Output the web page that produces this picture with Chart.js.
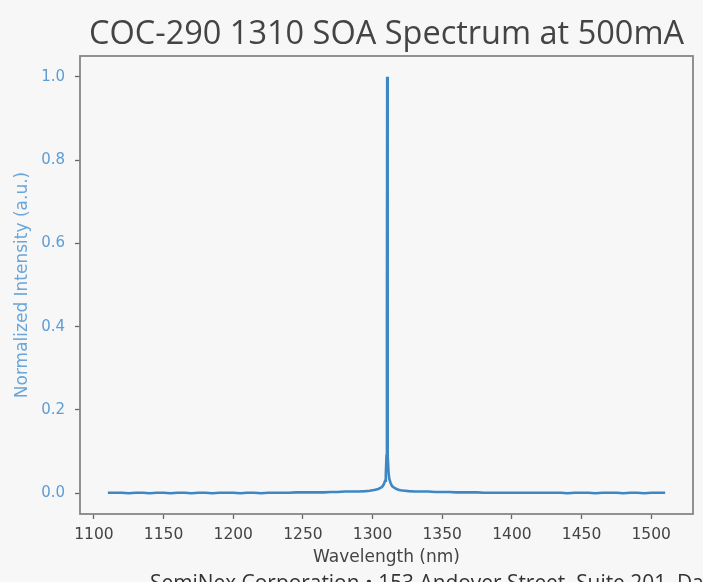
<!DOCTYPE html>
<html>
<head>
<meta charset="utf-8">
<script src="https://cdn.jsdelivr.net/npm/chart.js@4.4.1/dist/chart.umd.min.js"></script>
<style>
  html, body { margin: 0; padding: 0; background: #f7f7f7; overflow: hidden; }
  #wrap { position: relative; width: 703px; height: 582px; overflow: hidden; background: #f7f7f7; }
  #c { position: absolute; left: 0; top: 0; }
  #footer { position: absolute; left: 150px; top: 572px; font-family: "Open Sans", sans-serif; font-size: 20.9px; line-height: 21px; color: #333; white-space: nowrap; }
</style>
</head>
<body>
<div id="wrap">
  <canvas id="c" width="703" height="582"></canvas>
  <div id="footer">SemiNex Corporation • 153 Andover Street, Suite 201, Danvers, MA 01923</div>
</div>
<script>
// ---- data ----
const wavelengths = [
  1110,1115,1120,1125,1130,1135,1140,1145,1150,1155,
  1160,1165,1170,1175,1180,1185,1190,1195,1200,1205,
  1210,1215,1220,1225,1230,1235,1240,1245,1250,1255,
  1260,1265,1270,1275,1280,1285,1290,1295,1298,1300,
  1302,1304,1306,1307,1308,1309,1309.5,1310,1310.3,1310.5,
  1310.7,1311,1311.5,1312,1313,1314,1316,1318,1320,1323,
  1326,1330,1335,1340,1345,1350,1355,1360,1365,1370,
  1375,1380,1385,1390,1395,1400,1405,1410,1415,1420,
  1425,1430,1435,1440,1445,1450,1455,1460,1465,1470,
  1475,1480,1485,1490,1495,1500,1505,1510
];
const intensity = [
  0.001,0.001,0.001,0.000,0.001,0.001,0.000,0.001,0.001,0.000,
  0.001,0.001,0.000,0.001,0.001,0.000,0.001,0.001,0.001,0.000,
  0.001,0.001,0.000,0.001,0.001,0.001,0.001,0.002,0.002,0.002,
  0.002,0.002,0.003,0.003,0.004,0.004,0.004,0.005,0.006,0.007,
  0.008,0.010,0.013,0.016,0.021,0.030,0.045,0.090,0.400,1.000,
  0.400,0.090,0.048,0.034,0.024,0.017,0.012,0.009,0.007,0.006,
  0.005,0.004,0.004,0.004,0.003,0.003,0.003,0.002,0.002,0.002,
  0.002,0.001,0.001,0.001,0.001,0.001,0.001,0.001,0.001,0.001,
  0.001,0.001,0.001,0.000,0.001,0.001,0.001,0.000,0.001,0.001,
  0.001,0.000,0.001,0.001,0.000,0.001,0.001,0.001
];
const xTickValues = [1100,1150,1200,1250,1300,1350,1400,1450,1500];
const yTickValues = [0.0,0.2,0.4,0.6,0.8,1.0];
const titleText = "COC-290 1310 SOA Spectrum at 500mA";
const xLabel = "Wavelength (nm)";
const yLabel = "Normalized Intensity (a.u.)";

const points = wavelengths.map((w, i) => ({ x: w, y: intensity[i] }));

const framePlugin = {
  id: 'frame',
  afterDraw(chart) {
    const { ctx, chartArea: a } = chart;
    ctx.save();
    ctx.strokeStyle = '#858585';
    ctx.lineWidth = 1.8;
    ctx.strokeRect(a.left, a.top, a.right - a.left, a.bottom - a.top);
    ctx.restore();
  }
};

new Chart(document.getElementById('c'), {
  type: 'line',
  data: {
    datasets: [{
      data: points,
      borderColor: '#3d87c5',
      borderWidth: 2.6,
      pointRadius: 0,
      tension: 0,
      fill: false
    }]
  },
  options: {
    responsive: false,
    animation: false,
    devicePixelRatio: 1,
    layout: { padding: { left: 0, right: 10, top: 0, bottom: 0 } },
    plugins: {
      legend: { display: false },
      tooltip: { enabled: false },
      title: {
        display: true,
        text: titleText,
        fullSize: false,
        color: '#444444',
        font: { family: '"Open Sans", sans-serif', size: 32.5, weight: 'normal', lineHeight: 1.2 },
        padding: { top: 15, bottom: 2 }
      }
    },
    scales: {
      x: {
        type: 'linear',
        min: 1090,
        max: 1530,
        afterFit(scale) { scale.height = 68; },
        afterBuildTicks(scale) { scale.ticks = xTickValues.map(v => ({ value: v })); },
        border: { display: false },
        grid: { drawOnChartArea: false, drawTicks: true, tickLength: 5, tickColor: '#666666', tickWidth: 1.3 },
        ticks: {
          color: '#444444',
          padding: 7,
          maxRotation: 0,
          autoSkip: false,
          font: { family: '"DejaVu Sans", sans-serif', size: 15.5 },
          callback: v => String(v)
        },
        title: {
          display: true,
          text: xLabel,
          color: '#444444',
          font: { family: '"DejaVu Sans", sans-serif', size: 17, lineHeight: 1.2 },
          padding: { top: 0, bottom: 13.8 }
        }
      },
      y: {
        type: 'linear',
        min: -0.05,
        max: 1.05,
        afterFit(scale) { scale.width = 80; },
        afterBuildTicks(scale) { scale.ticks = yTickValues.map(v => ({ value: v })); },
        border: { display: false },
        grid: { drawOnChartArea: false, drawTicks: true, tickLength: 5, tickColor: '#666666', tickWidth: 1.3 },
        ticks: {
          color: '#5e9dd3',
          padding: 10,
          autoSkip: false,
          font: { family: '"DejaVu Sans", sans-serif', size: 15 },
          callback: v => Number(v).toFixed(1)
        },
        title: {
          display: true,
          text: yLabel,
          color: '#6aa6d8',
          font: { family: '"DejaVu Sans", sans-serif', size: 17, lineHeight: 1.2 },
          padding: { top: 12.8, bottom: 0 }
        }
      }
    }
  },
  plugins: [framePlugin]
});
</script>
</body>
</html>
